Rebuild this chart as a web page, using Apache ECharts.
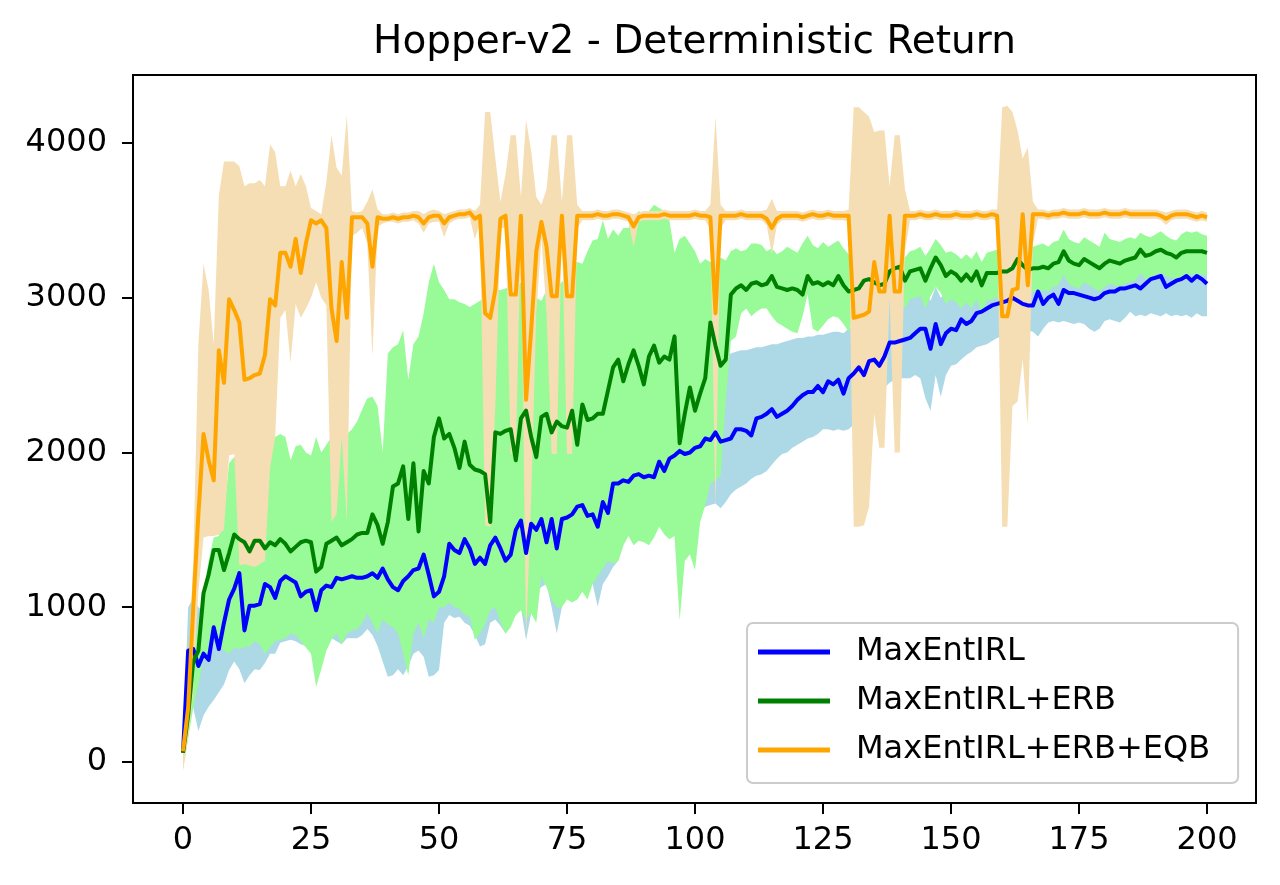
<!DOCTYPE html>
<html>
<head>
<meta charset="utf-8">
<title>Hopper-v2 - Deterministic Return</title>
<script src="https://cdn.jsdelivr.net/npm/echarts@6/dist/echarts.min.js"></script>
<style>
	html, body { margin: 0; padding: 0; background: #fff; }
	#chart { width: 1280px; height: 885px; }
</style>
</head>
<body>
<div id="chart"></div>
<script>
// tick labels
var xTicks = [0, 25, 50, 75, 100, 125, 150, 175, 200];
var yTicks = [0, 1000, 2000, 3000, 4000];
var names = ['MaxEntIRL', 'MaxEntIRL+ERB', 'MaxEntIRL+ERB+EQB'];

// MaxEntIRL (mean, band low, band high), one value per iteration 0..200
var blueMean = [
	60, 720, 730, 620, 700, 660, 870, 730, 900, 1050,
	1120, 1220, 850, 1010, 1010, 1020, 1150, 1130, 1060, 1170,
	1200, 1180, 1160, 1070, 1100, 1110, 980, 1110, 1140, 1130,
	1190, 1180, 1190, 1200, 1190, 1190, 1200, 1220, 1190, 1250,
	1180, 1130, 1110, 1170, 1200, 1240, 1250, 1340, 1210, 1070,
	1100, 1200, 1410, 1370, 1350, 1440, 1380, 1280, 1320, 1280,
	1400, 1450, 1380, 1300, 1340, 1500, 1560, 1350, 1540, 1500,
	1570, 1420, 1570, 1380, 1570, 1580, 1600, 1650, 1660, 1590,
	1600, 1520, 1680, 1610, 1800, 1800, 1820, 1810, 1850, 1860,
	1840, 1850, 1840, 1940, 1880, 1960, 1980, 2010, 1990, 2000,
	2030, 2040, 2090, 2080, 2130, 2070, 2080, 2090, 2150, 2150,
	2140, 2110, 2220, 2230, 2250, 2280, 2230, 2250, 2270, 2300,
	2340, 2370, 2390, 2390, 2430, 2390, 2460, 2440, 2470, 2380,
	2480, 2510, 2550, 2500, 2590, 2600, 2560, 2620, 2710, 2710,
	2720, 2730, 2740, 2770, 2800, 2800, 2670, 2830, 2700, 2770,
	2800, 2790, 2860, 2830, 2850, 2900, 2910, 2930, 2950, 2960,
	2970, 2980, 3000, 2980, 2960, 2950, 2950, 3040, 2960, 3000,
	3020, 2960, 3050, 3030, 3030, 3020, 3010, 3000, 2990, 3000,
	3030, 3040, 3040, 3060, 3060, 3070, 3080, 3060, 3090, 3120,
	3130, 3140, 3070, 3090, 3110, 3120, 3140, 3110, 3140, 3120,
	3090
];
var blueLow = [
	-40, 400, 350, 200, 300, 357, 400, 450, 500, 594,
	650, 600, 508, 560, 600, 594, 640, 700, 700, 770,
	780, 790, 780, 760, 750, 720, 600, 700, 750, 800,
	780, 760, 800, 800, 800, 820, 860, 820, 750, 650,
	551, 560, 600, 560, 620, 700, 720, 680, 551, 560,
	594, 900, 950, 930, 939, 900, 880, 820, 746, 760,
	900, 920, 880, 831, 900, 950, 1000, 788, 960, 1100,
	1130, 1150, 1000, 831, 1000, 1100, 1050, 1150, 1100, 1200,
	1150, 1004, 1150, 1200, 1260, 1300, 1400, 1480, 1450, 1460,
	1450, 1480, 1510, 1520, 1540, 1560, 1580, 1560, 1550, 1600,
	1580, 1620, 1650, 1660, 1670, 1640, 1680, 1730, 1760, 1780,
	1800, 1830, 1850, 1860, 1880, 1920, 1960, 1990, 2000, 2030,
	2050, 2070, 2090, 2100, 2120, 2150, 2150, 2140, 2150, 2140,
	2150, 2180, 2220, 2260, 2300, 2340, 2380, 2420, 2450, 2470,
	2480, 2480, 2480, 2500, 2480, 2350, 2270, 2500, 2360, 2500,
	2560, 2570, 2600, 2630, 2650, 2680, 2690, 2700, 2720, 2740,
	2750, 2760, 2780, 2790, 2800, 2790, 2780, 2750, 2800, 2840,
	2850, 2840, 2850, 2840, 2830, 2840, 2830, 2800, 2780, 2800,
	2850, 2860, 2850, 2840, 2870, 2910, 2880, 2890, 2880, 2900,
	2890, 2880, 2900, 2880, 2890, 2880, 2890, 2870, 2900, 2880,
	2880
];
var blueHigh = [
	60, 1000, 1060, 1000, 980, 1000, 1150, 1080, 1250, 1400,
	1470, 1570, 1200, 1360, 1360, 1370, 1500, 1480, 1410, 1520,
	1550, 1530, 1510, 1420, 1450, 1460, 1330, 1460, 1490, 1480,
	1540, 1530, 1540, 1550, 1540, 1540, 1550, 1570, 1540, 1600,
	1530, 1480, 1460, 1520, 1550, 1590, 1600, 1690, 1560, 1420,
	1450, 1550, 1760, 1720, 1700, 1790, 1730, 1630, 1670, 1630,
	1750, 1800, 1730, 1650, 1690, 1850, 1910, 1700, 1890, 1850,
	1920, 1770, 1920, 1730, 1920, 1930, 1950, 2000, 2010, 1940,
	1950, 1870, 2030, 1960, 2150, 2150, 2170, 2160, 2200, 2210,
	2190, 2200, 2190, 2290, 2230, 2310, 2330, 2360, 2340, 2400,
	2450, 2500, 2550, 2580, 2600, 2610, 2630, 2640, 2650, 2660,
	2660, 2670, 2680, 2680, 2690, 2700, 2700, 2710, 2720, 2730,
	2740, 2740, 2750, 2750, 2760, 2760, 2770, 2780, 2780, 2770,
	2800, 2820, 2840, 2850, 2880, 2900, 2920, 2940, 2980, 2990,
	3000, 3010, 3020, 3030, 3050, 3040, 2980, 3070, 3000, 3040,
	3060, 3060, 3100, 3080, 3090, 3120, 3130, 3140, 3150, 3160,
	3170, 3180, 3200, 3190, 3170, 3160, 3160, 3230, 3160, 3200,
	3210, 3170, 3240, 3220, 3220, 3210, 3200, 3190, 3180, 3200,
	3220, 3230, 3230, 3250, 3250, 3260, 3270, 3250, 3280, 3300,
	3310, 3320, 3260, 3280, 3300, 3310, 3330, 3300, 3330, 3310,
	3290
];

// MaxEntIRL+ERB
var greenMean = [
	60, 300, 650, 720, 1090, 1210, 1370, 1370, 1240, 1350,
	1470, 1440, 1420, 1360, 1430, 1430, 1380, 1420, 1400, 1440,
	1410, 1360, 1390, 1420, 1430, 1420, 1230, 1260, 1410, 1430,
	1450, 1400, 1420, 1440, 1470, 1480, 1480, 1600, 1530, 1410,
	1550, 1780, 1800, 1910, 1570, 1930, 1490, 1880, 1800, 2100,
	2220, 2090, 2120, 2030, 1900, 2070, 1920, 1890, 1880, 1860,
	1550, 2130, 2120, 2140, 2150, 1950, 2220, 2270, 2100, 1970,
	2230, 2250, 2130, 2200, 2170, 2160, 2270, 2050, 2310, 2210,
	2220, 2250, 2250, 2400, 2550, 2600, 2460, 2570, 2660, 2560,
	2440, 2620, 2690, 2580, 2620, 2600, 2750, 2060, 2250, 2420,
	2270, 2380, 2480, 2840, 2690, 2560, 2600, 3020, 3060, 3080,
	3050, 3090, 3100, 3080, 3090, 3140, 3070, 3060, 3050, 3060,
	3050, 3020, 3140, 3090, 3100, 3080, 3100, 3080, 3140, 3080,
	3040, 3050, 3060, 3110, 3120, 3100, 3080, 3090, 3170, 3190,
	3200, 3110, 3170, 3180, 3190, 3110, 3190, 3260, 3210, 3140,
	3170, 3150, 3110, 3150, 3110, 3170, 3080, 3160, 3160, 3160,
	3170, 3170, 3190, 3250, 3210, 3180, 3190, 3190, 3200, 3190,
	3220, 3230, 3300, 3240, 3220, 3210, 3250, 3230, 3210, 3190,
	3220, 3240, 3230, 3220, 3240, 3250, 3260, 3310, 3270, 3280,
	3300, 3310, 3290, 3280, 3260, 3290, 3300, 3300, 3300, 3300,
	3290
];
var greenLow = [
	-40, 150, 350, 500, 680, 720, 790, 760, 720, 700,
	740, 730, 745, 745, 780, 760, 700, 740, 780, 790,
	800, 830, 820, 780, 740, 700, 486, 600, 720, 790,
	830, 760, 830, 850, 860, 900, 960, 900, 830, 920,
	890, 870, 830, 700, 560, 830, 900, 800, 920, 900,
	1000, 1000, 1030, 1000, 990, 950, 940, 790, 830, 890,
	980, 1000, 900, 830, 870, 950, 980, 920, 960, 900,
	1200, 1130, 1050, 1000, 1000, 1050, 1030, 1050, 1100, 1050,
	1150, 1200, 1250, 1300, 1280, 1300, 1400, 1460, 1400, 1430,
	1420, 1400, 1450, 1520, 1470, 1440, 1460, 914, 1300, 1340,
	1240, 1550, 1660, 1800, 1820, 1850, 2330, 2720, 2750, 2900,
	2930, 2880, 2910, 2930, 2930, 2880, 2840, 2820, 2800, 2780,
	2770, 2880, 3020, 2800, 2780, 2820, 2860, 2880, 2870, 2830,
	2780, 2870, 2890, 2930, 2940, 2920, 2900, 2910, 2980, 3000,
	3010, 2930, 2990, 3000, 3010, 2930, 3010, 3070, 3030, 2960,
	2990, 2970, 2930, 2970, 2930, 2990, 2900, 2980, 2990, 3000,
	3010, 3010, 3030, 3090, 3050, 3030, 3040, 3040, 3050, 3040,
	3070, 3080, 3150, 3090, 3070, 3060, 3100, 3080, 3060, 3040,
	3070, 3090, 3080, 3070, 3090, 3100, 3110, 3160, 3120, 3130,
	3150, 3160, 3140, 3130, 3110, 3140, 3150, 3150, 3150, 3150,
	3140
];
var greenHigh = [
	60, 400, 700, 900, 1100, 1300, 1450, 1460, 1600, 1930,
	1970, 1930, 1880, 1930, 1880, 1900, 1950, 2020, 2100, 2120,
	2100, 1950, 2040, 2050, 2000, 1980, 2100, 2000, 2050, 2100,
	2100, 2100, 2120, 2150, 2200, 2280, 2350, 2360, 2300, 2000,
	2640, 2680, 2700, 2790, 2470, 2700, 2750, 2900, 3100, 3220,
	3100, 3050, 2990, 2990, 2970, 2960, 2940, 2960, 2980, 3000,
	3000, 3050, 3050, 3060, 3080, 3050, 3100, 3100, 3050, 3000,
	2980, 3050, 3000, 3080, 3100, 3150, 3200, 3230, 3220, 3300,
	3370, 3380, 3500, 3380, 3440, 3400, 3450, 3450, 3520, 3560,
	3540, 3560, 3600, 3580, 3560, 3500, 3290, 3380, 3400, 3350,
	3300, 3220, 3250, 3230, 3200, 3260, 3240, 3300, 3320, 3300,
	3310, 3350, 3350, 3340, 3300, 3320, 3280, 3300, 3330, 3310,
	3290, 3350, 3400, 3340, 3320, 3360, 3330, 3350, 3370, 3320,
	3280, 3200, 3210, 3250, 3260, 3240, 3230, 3250, 3300, 3310,
	3320, 3260, 3300, 3310, 3330, 3270, 3320, 3380, 3340, 3290,
	3300, 3280, 3250, 3280, 3250, 3300, 3230, 3290, 3300, 3310,
	3320, 3310, 3330, 3380, 3340, 3320, 3330, 3340, 3350, 3330,
	3360, 3370, 3440, 3380, 3360, 3350, 3390, 3370, 3350, 3330,
	3420, 3380, 3370, 3360, 3380, 3390, 3380, 3420, 3400, 3390,
	3410, 3430, 3400, 3380, 3370, 3410, 3430, 3420, 3430, 3410,
	3400
];

// MaxEntIRL+ERB+EQB
var orangeMean = [
	70, 350, 1000, 1600, 2120, 1950, 1820, 2660, 2450, 2990,
	2920, 2840, 2470, 2480, 2500, 2510, 2630, 2990, 2950, 3290,
	3290, 3200, 3380, 3160, 3350, 3500, 3480, 3500, 3450, 2930,
	2720, 3230, 2870, 3520, 3520, 3520, 3480, 3200, 3520, 3510,
	3510, 3520, 3510, 3520, 3520, 3530, 3520, 3480, 3520, 3530,
	3530, 3480, 3520, 3530, 3540, 3540, 3550, 3510, 3530, 2900,
	2870, 3050, 3510, 3530, 3020, 3020, 3530, 2340, 2790, 3300,
	3490, 3330, 3010, 3010, 3530, 3010, 3010, 3530, 3530, 3530,
	3530, 3540, 3530, 3530, 3540, 3540, 3530, 3520, 3460, 3520,
	3530, 3530, 3530, 3530, 3540, 3530, 3530, 3530, 3530, 3530,
	3540, 3530, 3530, 3520, 2900, 3530, 3530, 3530, 3530, 3540,
	3530, 3530, 3530, 3530, 3510, 3450, 3510, 3530, 3530, 3530,
	3530, 3520, 3530, 3540, 3530, 3530, 3540, 3530, 3530, 3530,
	3530, 2870, 2880, 2890, 2910, 3230, 3040, 3040, 3530, 3040,
	3040, 3530, 3530, 3530, 3540, 3530, 3530, 3540, 3530, 3530,
	3530, 3540, 3530, 3530, 3530, 3540, 3530, 3530, 3540, 3530,
	2880, 2880, 3050, 3060, 3540, 3080, 3540, 3540, 3540, 3530,
	3540, 3540, 3550, 3540, 3540, 3540, 3550, 3540, 3540, 3540,
	3550, 3540, 3540, 3540, 3550, 3540, 3540, 3540, 3540, 3540,
	3540, 3530, 3510, 3530, 3540, 3540, 3540, 3530, 3520, 3530,
	3520
];
var orangeLow = [
	-60, 150, 450, 1100, 1450, 1460, 1460, 1470, 1500, 1980,
	1990, 1270, 1280, 1270, 1260, 1280, 1300, 1900, 2100, 2870,
	2920, 2580, 2960, 2870, 2930, 3000, 3100, 3000, 2950, 1550,
	1600, 2100, 1550, 3400, 3420, 3450, 3350, 2620, 3460, 3480,
	3490, 3490, 3480, 3490, 3490, 3500, 3480, 3420, 3480, 3490,
	3490, 3390, 3480, 3500, 3510, 3510, 3520, 3380, 3480, 1530,
	1520, 2300, 3450, 3450, 1990, 1990, 3450, 800, 1700, 2900,
	3380, 2900, 1990, 1990, 3450, 1990, 1990, 3450, 3500, 3500,
	3500, 3510, 3500, 3500, 3510, 3510, 3500, 3490, 3330, 3490,
	3500, 3500, 3500, 3500, 3510, 3500, 3500, 3500, 3500, 3500,
	3510, 3500, 3500, 3440, 1640, 3450, 3500, 3500, 3500, 3510,
	3500, 3500, 3500, 3500, 3470, 3280, 3470, 3500, 3500, 3500,
	3500, 3490, 3500, 3510, 3500, 3500, 3510, 3500, 3500, 3500,
	3490, 1520, 1520, 1530, 1650, 2250, 2030, 2030, 3000, 2000,
	2000, 3300, 3500, 3500, 3510, 3500, 3500, 3510, 3500, 3500,
	3500, 3510, 3500, 3500, 3500, 3510, 3500, 3500, 3510, 3490,
	1520, 1520, 2300, 2330, 2600, 2180, 3350, 3510, 3510, 3500,
	3510, 3510, 3520, 3510, 3510, 3510, 3520, 3510, 3510, 3510,
	3520, 3510, 3510, 3510, 3520, 3510, 3510, 3510, 3510, 3510,
	3510, 3500, 3470, 3500, 3510, 3510, 3510, 3500, 3490, 3500,
	3490
];
var orangeHigh = [
	100, 600, 1300, 2700, 3220, 3050, 2700, 3660, 3880, 3880,
	3880, 3850, 3720, 3740, 3740, 3760, 3720, 3990, 3940, 3720,
	3720, 3820, 3720, 3800, 3720, 3580, 3560, 3540, 3750, 4050,
	3840, 3790, 4180, 3560, 3550, 3560, 3620, 3700, 3570, 3540,
	3540, 3550, 3540, 3550, 3550, 3560, 3560, 3540, 3560, 3570,
	3560, 3540, 3550, 3560, 3570, 3570, 3580, 3560, 3600, 4200,
	4200, 3900, 3620, 3800, 4050, 4050, 3650, 4150, 3950, 3650,
	3600, 3700, 4050, 4050, 3620, 4050, 4050, 3600, 3560, 3560,
	3560, 3570, 3560, 3560, 3570, 3570, 3560, 3550, 3540, 3550,
	3560, 3560, 3560, 3560, 3570, 3560, 3560, 3560, 3560, 3560,
	3570, 3560, 3560, 3600, 4170, 3600, 3560, 3560, 3560, 3570,
	3560, 3560, 3560, 3560, 3570, 3640, 3560, 3560, 3560, 3560,
	3560, 3550, 3560, 3570, 3560, 3560, 3570, 3560, 3560, 3560,
	3570, 4230, 4230, 4200, 4170, 4070, 4080, 4080, 3720, 4050,
	4050, 3700, 3560, 3560, 3570, 3560, 3560, 3570, 3560, 3560,
	3560, 3570, 3560, 3560, 3560, 3570, 3560, 3560, 3570, 3570,
	4230, 4240, 4200, 4080, 3900, 3970, 3620, 3570, 3570, 3560,
	3570, 3570, 3580, 3570, 3570, 3570, 3580, 3570, 3570, 3570,
	3580, 3570, 3570, 3570, 3580, 3570, 3570, 3570, 3570, 3570,
	3570, 3560, 3550, 3560, 3570, 3570, 3570, 3560, 3550, 3560,
	3550
];

var FONT = 'DejaVu Sans';

function pairs(arr) {
	return arr.map(function(v, i) { return [i, v]; });
}
// shaded band: one polygon, high edge left->right then low edge back
function band(low, high, color) {
	return {
		type: 'custom',
		silent: true,
		data: [[0, low[0]]],
		renderItem: function(params, api) {
			var pts = [];
			for (var i = 0; i < high.length; i++) {
				pts.push(api.coord([i, high[i]]));
			}
			for (var j = low.length - 1; j >= 0; j--) {
				pts.push(api.coord([j, low[j]]));
			}
			return {
				type: 'polygon',
				shape: { points: pts },
				style: { fill: color, stroke: null }
			};
		}
	};
}
function meanLine(name, arr, color) {
	return {
		name: name,
		type: 'line',
		data: pairs(arr),
		showSymbol: false,
		lineStyle: { color: color, width: 4, join: 'round' },
		itemStyle: { color: color }
	};
}

var chart = echarts.init(document.getElementById('chart'));
chart.setOption({
	animation: false,
	backgroundColor: '#fff',
	graphic: [{
		type: 'text',
		x: 694.5,
		y: 43,
		style: {
			text: 'Hopper-v2 - Deterministic Return',
			font: '39px "DejaVu Sans"',
			fill: '#000',
			textAlign: 'center',
			textVerticalAlign: 'middle'
		}
	}],
	grid: {
		left: 133, right: 24, top: 75, bottom: 82,
		show: true,
		borderColor: '#000',
		borderWidth: 2,
		backgroundColor: 'transparent'
	},
	legend: {
		data: names,
		orient: 'vertical',
		left: 747,
		top: 623,
		icon: 'rect',
		itemWidth: 72,
		itemHeight: 5,
		itemGap: 17,
		padding: [13, 28, 17, 11],
		backgroundColor: '#fff',
		borderColor: '#cccccc',
		borderWidth: 2,
		borderRadius: 6,
		textStyle: {
			fontFamily: FONT,
			fontSize: 32,
			lineHeight: 32,
			color: '#000',
			padding: [0, 0, 0, 21]
		}
	},
	xAxis: {
		type: 'value',
		min: -9.77,
		max: 209.57,
		axisLine: { show: true, onZero: false, lineStyle: { color: '#000', width: 2 } },
		axisTick: { show: true, length: 11, customValues: xTicks, lineStyle: { color: '#000', width: 2 } },
		axisLabel: { customValues: xTicks, margin: 22, fontFamily: FONT, fontSize: 32, color: '#000' },
		splitLine: { show: false }
	},
	yAxis: {
		type: 'value',
		min: -265,
		max: 4439,
		axisLine: { show: true, onZero: false, lineStyle: { color: '#000', width: 2 } },
		axisTick: { show: true, length: 11, customValues: yTicks, lineStyle: { color: '#000', width: 2 } },
		axisLabel: {
			customValues: yTicks, margin: 26, fontFamily: FONT, fontSize: 32, color: '#000',
			formatter: function(v) { return String(v); }
		},
		splitLine: { show: false }
	},
	series: [
		band(blueLow, blueHigh, '#add8e6'),
		band(greenLow, greenHigh, '#98fb98'),
		band(orangeLow, orangeHigh, '#f5deb3'),
		meanLine(names[0], blueMean, '#0000ff'),
		meanLine(names[1], greenMean, '#008000'),
		meanLine(names[2], orangeMean, '#ffa500')
	]
});
</script>
</body>
</html>
